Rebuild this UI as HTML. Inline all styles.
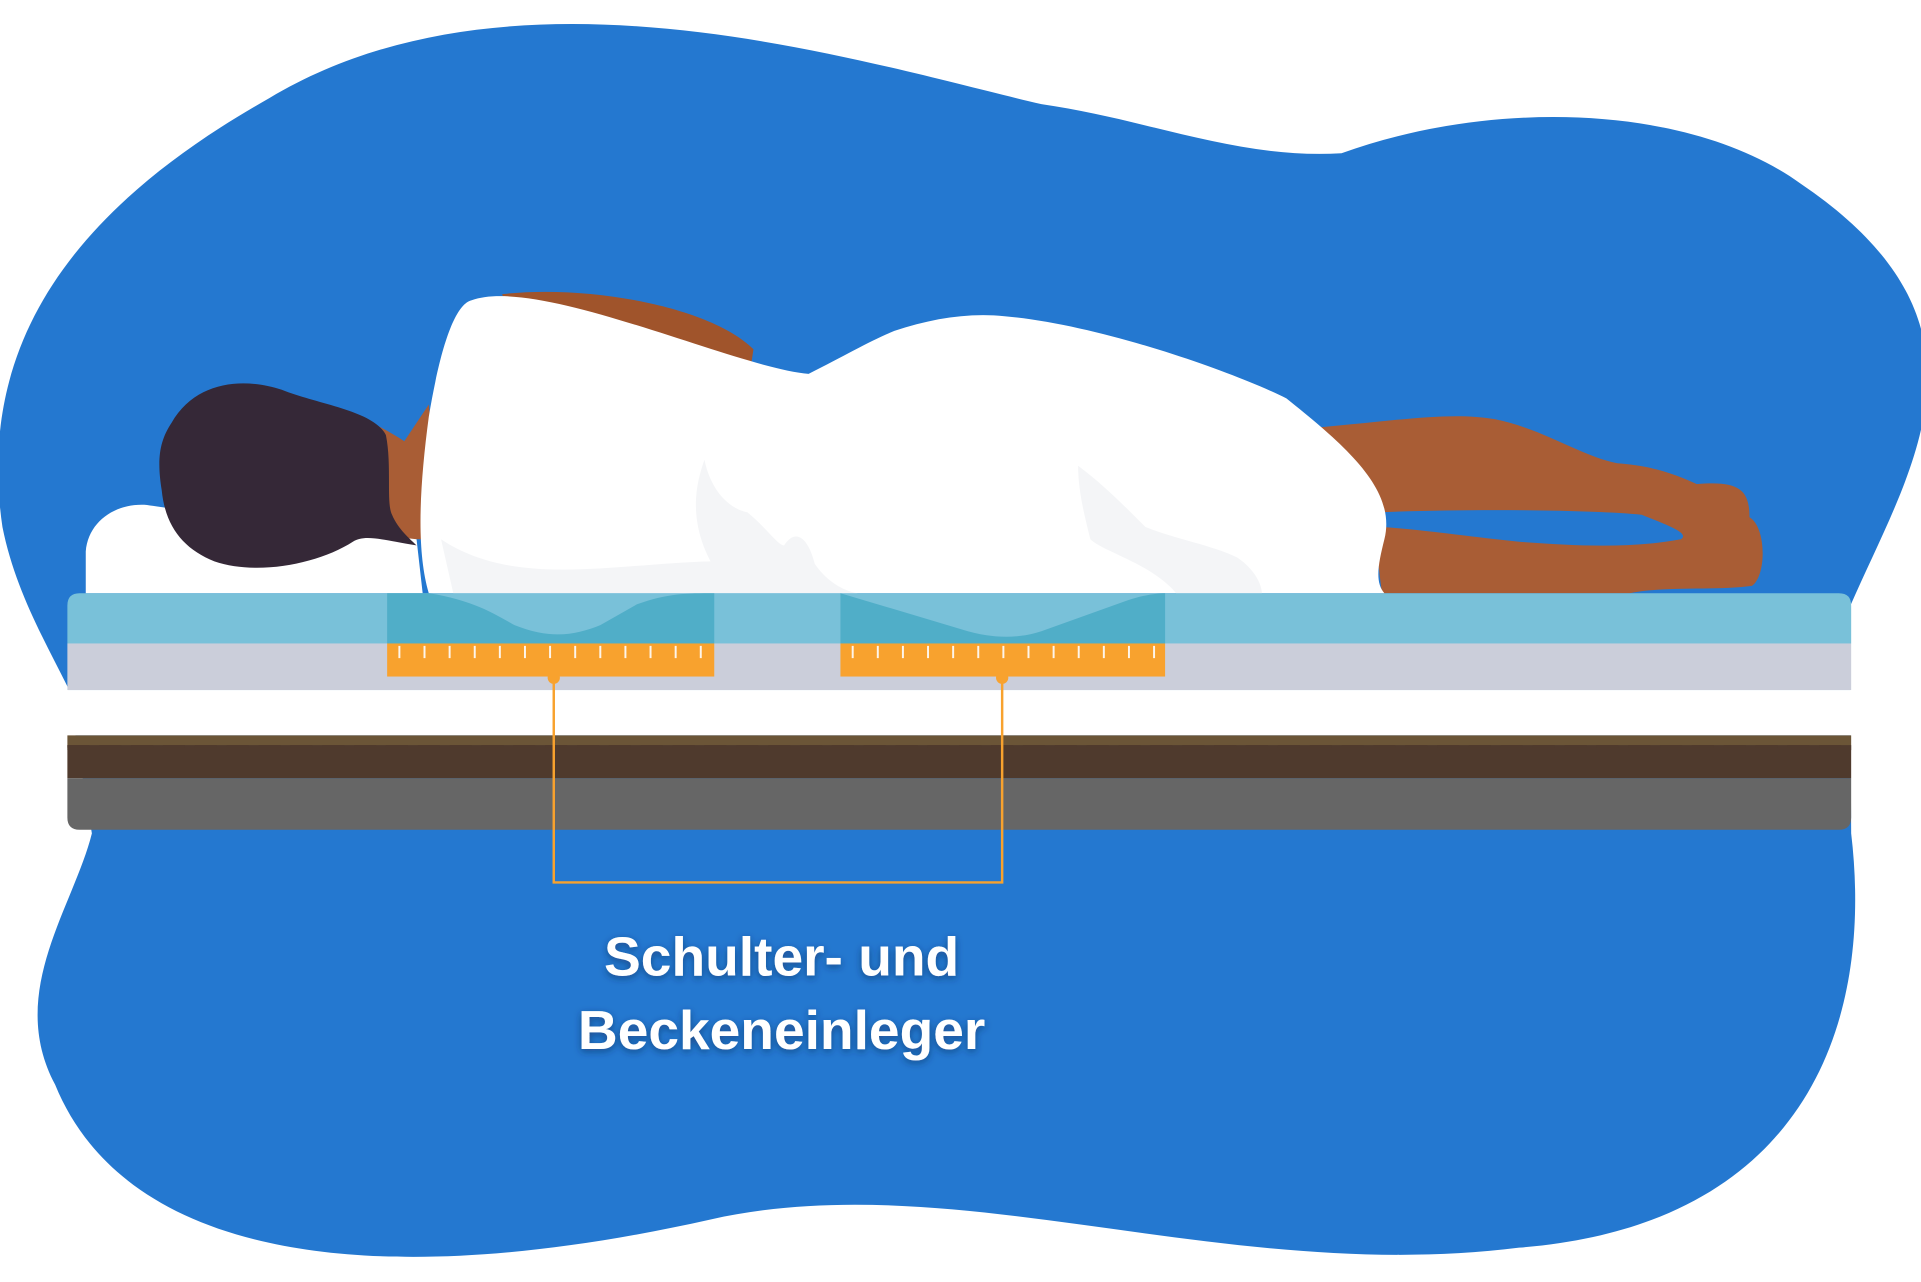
<!DOCTYPE html>
<html><head><meta charset="utf-8"><style>
html,body{margin:0;padding:0;background:#fff;width:1921px;height:1282px;overflow:hidden}
svg{display:block}
</style></head><body>
<svg width="1921" height="1282" viewBox="0 0 1568 1046" preserveAspectRatio="none" xmlns="http://www.w3.org/2000/svg">
<defs>
<filter id="sh" x="-20%" y="-20%" width="140%" height="140%"><feDropShadow dx="0" dy="2" stdDeviation="3" flood-color="#0a2a5a" flood-opacity="0.6"/></filter>
</defs>
<path fill="#2478D0" d="M2,430 C-20,280 60,170 220,80 C420,-40 700,50 850,85 C940,98 1010,130 1095,125 C1220,80 1380,85 1470,150 C1640,265 1560,380 1510,495 L1511,680 C1530,840 1470,1000 1240,1018 C1000,1048 780,950 580,995 C290,1060 100,1020 45,885 C5,810 60,740 75,680 L55,560 C35,520 12,480 2,430 Z"/>
<!-- legs -->
<path fill="#A95D35" d="M1060,350 C1130,345 1180,335 1220,342 C1260,350 1290,372 1320,378 C1350,380 1370,388 1385,395 C1420,392 1428,400 1428,422 C1442,430 1442,470 1430,478 C1400,482 1360,478 1330,484 L1128,484 L1120,420 L1060,350 Z"/>
<path fill="#2478D0" d="M1125,418 C1200,415 1300,416 1340,420 C1360,428 1380,435 1372,440 C1330,448 1280,445 1240,442 C1200,438 1160,432 1128,430 Z"/>
<path fill="#A0542B" d="M410,240 C480,232 580,250 615,285 L612,305 L420,290 Z"/>
<path fill="#A95D35" d="M200,318 C250,320 300,340 330,360 L350,330 L360,440 L300,440 Z"/>
<path fill="#fff" d="M70,484 L70,450 C72,425 95,410 120,412 C160,418 250,430 340,440 L345,484 Z"/>
<path fill="#352837" d="M140,345 C160,310 200,308 230,318 C260,330 305,335 315,355 C320,380 315,410 320,420 C325,432 335,440 340,445 C310,440 298,436 288,442 C260,460 210,470 175,458 C150,448 135,430 132,400 C128,375 130,360 140,345 Z"/>
<path fill="#fff" d="M385,245 C440,225 600,300 660,305 C690,290 710,278 730,270 C760,260 790,255 820,258 C900,265 1010,305 1050,325 C1100,365 1140,400 1130,440 C1125,460 1122,475 1130,484 L350,484 C340,450 342,400 350,340 C360,280 372,248 385,245 Z"/>
<path fill="#F4F5F7" d="M360,440 C420,480 500,460 580,458 C560,420 570,390 575,375 C580,400 595,415 610,418 C625,430 635,445 640,445 C650,430 660,440 665,460 C680,482 700,484 700,484 L370,484 Z M880,380 C900,395 915,410 935,430 C960,440 990,445 1010,455 C1025,465 1030,478 1030,484 L960,484 C940,460 900,450 890,440 C885,420 880,400 880,380 Z"/>
<!-- mattress -->
<rect x="0" y="563" width="1568" height="37" fill="#fff"/>
<path fill="#79C1D9" d="M55,494 Q55,484 65,484 L1501,484 Q1511,484 1511,494 L1511,525 L55,525 Z"/>
<rect x="55" y="525" width="1456" height="38" fill="#CBCEDA"/>
<rect x="55" y="600" width="1456" height="12" fill="#6B5537"/>
<path fill="#4F3A2D" d="M55,608 L1511,608 L1511,635 L55,635 Z"/>
<path d="M55,609 L1511,609" stroke="#4F3A2D" stroke-width="2" stroke-dasharray="18,8"/>
<path fill="#666666" d="M55,635 L1511,635 L1511,667 Q1511,677 1501,677 L65,677 Q55,677 55,667 Z"/>
<path fill="#50AEC8" d="M316,484 L350,484 C390,490 410,505 420,510 C450,522 470,518 490,510 L520,493 C545,484 560,484 583,484 L583,525 L316,525 Z"/>
<path fill="#50AEC8" d="M686,484 L790,515 C815,522 835,520 850,515 L920,490 C935,485 945,484 951,484 L951,525 L686,525 Z"/>
<rect x="316" y="525" width="267" height="27" fill="#F8A22E"/>
<rect x="686" y="525" width="265" height="27" fill="#F8A22E"/>
<g stroke="#fff" stroke-width="1.6" opacity="0.9">
<path d="M326,527v10M346.5,527v10M367,527v10M387.5,527v10M408,527v10M428.5,527v10M449,527v10M469.5,527v10M490,527v10M510.5,527v10M531,527v10M551.5,527v10M572,527v10"/>
<path d="M696,527v10M716.5,527v10M737,527v10M757.5,527v10M778,527v10M798.5,527v10M819,527v10M839.5,527v10M860,527v10M880.5,527v10M901,527v10M921.5,527v10M942,527v10"/>
</g>
<path d="M452,553 L452,720 L818,720 L818,553" fill="none" stroke="#F8A22E" stroke-width="2"/>
<circle cx="452" cy="553" r="5" fill="#F8A22E"/>
<circle cx="818" cy="553" r="5" fill="#F8A22E"/>
<g font-family="Liberation Sans, sans-serif" font-weight="bold" font-size="45" fill="#fff" text-anchor="middle" filter="url(#sh)">
<text x="638" y="796">Schulter- und</text>
<text x="638" y="856">Beckeneinleger</text>
</g>
</svg>
</body></html>
